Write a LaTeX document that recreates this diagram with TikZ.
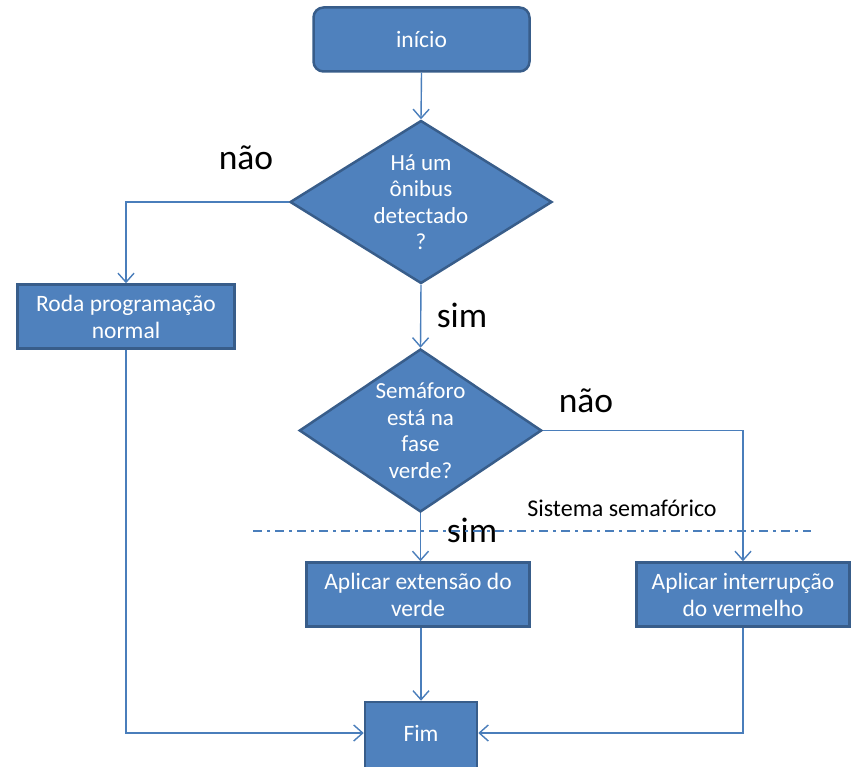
\documentclass[tikz,border=0pt]{standalone}
\usepackage{fontspec}
\setmainfont{Carlito}
\usetikzlibrary{shapes.geometric,arrows.meta}
\definecolor{boxfill}{HTML}{4F81BD}
\definecolor{boxdraw}{HTML}{385D8A}
\definecolor{linecol}{HTML}{4A7EBB}
\tikzset{
  flowbox/.style={rectangle,fill=boxfill,draw=boxdraw,line width=2.5pt,text=white,align=center,inner sep=0pt,font=\fontsize{23.5}{27}\selectfont},
  decbox/.style={diamond,fill=boxfill,draw=boxdraw,line width=2.5pt,text=white,align=center,inner sep=0pt,aspect=1.6,font=\fontsize{23}{26.5}\selectfont},
  conn/.style={draw=linecol,line width=1.4pt,-{Straight Barb[length=9pt,width=16pt,line width=1.4pt]}},
  lbl/.style={font=\fontsize{35.5}{36}\selectfont,text=black,inner sep=0pt},
}
\begin{document}
\begin{tikzpicture}[x=1pt,y=-1pt]
\useasboundingbox (0,0) rectangle (851,767);
\node[flowbox,rounded corners=10pt,minimum width=216pt,minimum height=64pt] (inicio) at (421.5,39.5) {início};
\node[decbox,minimum width=262pt,minimum height=163pt] (d1) at (421,202) {Há um\\ônibus\\detectado\\?};
\node[flowbox,minimum width=217pt,minimum height=64pt] (roda) at (126,316.5) {Roda programação\\normal};
\node[decbox,minimum width=241pt,minimum height=163pt] (d2) at (420.5,430.5) {Semáforo\\está na\\fase\\verde?};
\node[flowbox,minimum width=223pt,minimum height=64pt] (ext) at (418,594.5) {Aplicar extensão do\\verde};
\node[flowbox,minimum width=213pt,minimum height=64pt] (int) at (743,594.5) {Aplicar interrupção\\do vermelho};
\node[flowbox,minimum width=112pt,minimum height=72pt] (fim) at (421,738) {};
\node[text=white,font=\fontsize{23.5}{27}\selectfont,inner sep=0pt] (fimtxt) at (421,733) {Fim};
\node[lbl] (nao1) at (246,158) {não};
\node[lbl] (sim1) at (462,315) {sim};
\node[lbl] (nao2) at (586,401) {não};
\node[lbl] (sim2) at (472,530) {sim};
\node[font=\fontsize{24}{24}\selectfont,inner sep=0pt] (sist) at (622,508) {Sistema semafórico};
\coordinate (dl) at (253,531);
\coordinate (dr) at (811,531);
\draw[draw=linecol,line width=1.6pt,dash pattern=on 9pt off 5pt on 3pt off 5pt] (dl) -- (dr);
\draw[conn] (inicio.south) -- (d1.north);
\draw[conn] (d1.west) -| (roda.north);
\draw[conn] (d1.south) -- (d2.north);
\draw[conn] (d2.east) -| (int.north);
\draw[conn] (d2.south) -- (d2.south |- ext.north);
\draw[conn] (fim.north |- ext.south) -- (fim.north);
\draw[conn] (roda.south) |- (fim.west |- fimtxt.west);
\draw[conn] (int.south) |- (fim.east |- fimtxt.east);
\end{tikzpicture}
\end{document}
